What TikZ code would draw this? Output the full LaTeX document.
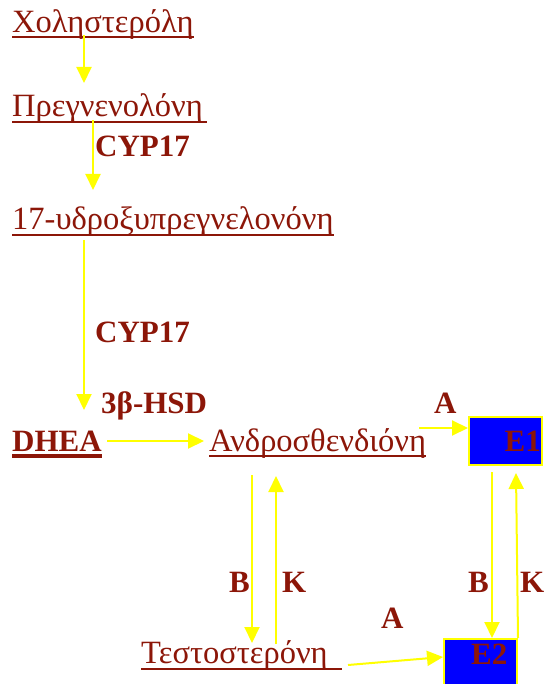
\documentclass[tikz,border=0pt]{standalone}
\usepackage{fontspec}
\setmainfont{Liberation Serif}
\usetikzlibrary{arrows.meta}
\definecolor{txtred}{RGB}{140,22,8}
\definecolor{flowyellow}{RGB}{255,255,0}
\definecolor{boxblue}{RGB}{0,0,255}
\tikzset{
  compound/.style={anchor=base west, inner sep=0pt, text=txtred, font=\fontsize{32.5}{36}\selectfont},
  enzyme/.style={anchor=base west, inner sep=0pt, text=txtred, font=\fontsize{31}{34}\selectfont\bfseries},
  uline/.style={draw=txtred, line width=2pt},
  flow/.style={draw=flowyellow, line width=2pt, -{Triangle[length=16pt, width=15pt]}},
  estro/.style={draw=flowyellow, fill=boxblue, line width=2pt, inner sep=0pt, minimum width=73pt, anchor=north west},
}
\begin{document}
\begin{tikzpicture}[x=1pt, y=-1pt]
\clip (0,0) rectangle (546,684);

% compounds
\node[compound] (chol) at (12,33) {Χοληστερόλη};
\node[compound] (preg) at (12,117) {Πρεγνενολόνη\ };
\node[compound] (ohp) at (12,230) {17-υδροξυπρεγνελονόνη};
\node[enzyme] (dhea) at (12,451) {DHEA};
\node[compound] (andro) at (209,451) {Ανδροσθενδιόνη};
\node[compound] (testo) at (141,663) {Τεστοστερόνη\ };

% underlines
\draw[uline] (12,37.5) -- (chol.base east |- 0,37.5);
\draw[uline] (12,122) -- (207,122);
\draw[uline] (12,235) -- (ohp.base east |- 0,235);
\draw[uline, line width=3.5pt] (12,456) -- (dhea.base east |- 0,456);
\draw[uline] (209,456) -- (andro.base east |- 0,456);
\draw[uline] (141,669) -- (342,669);

% estrogen boxes
\node[estro, minimum height=48pt] (e1) at (468,416) {};
\node[anchor=base east, inner sep=0pt, text=txtred, font=\fontsize{31}{34}\selectfont\bfseries] (e1t) at (541,451) {E1};
\node[estro, minimum height=70pt] (e2) at (443,638) {};
\node[anchor=base west, inner sep=0pt, text=txtred, font=\fontsize{31}{34}\selectfont\bfseries] (e2t) at (471,664) {E2};

% enzyme labels
\node[enzyme] (cypa) at (95,157) {CYP17};
\node[enzyme] (cypb) at (95,342) {CYP17};
\node[enzyme] (hsd) at (101,413) {3β-HSD};
\node[enzyme] (la1) at (434,413) {A};
\node[enzyme] (la2) at (381,628) {A};
\node[enzyme] (lb1) at (229,592) {B};
\node[enzyme] (lk1) at (282,592) {K};
\node[enzyme] (lb2) at (468,592) {B};
\node[enzyme] (lk2) at (520,592) {K};

% connector end points
\coordinate (c1a) at (84,35);   \coordinate (c1b) at (84,83);
\coordinate (c2a) at (93,120);  \coordinate (c2b) at (93,190);
\coordinate (c3a) at (84,240);  \coordinate (c3b) at (84,410);
\coordinate (c4a) at (107,441); \coordinate (c4b) at (204,441);
\coordinate (c5a) at (419,428);
\coordinate (c6a) at (252,475); \coordinate (c6b) at (252,643);
\coordinate (c7a) at (276,644); \coordinate (c7b) at (276,476);
\coordinate (c8a) at (348,665);
\coordinate (c9a) at (492,472);
\coordinate (c10b) at (516,473);

% pathway arrows
\draw[flow] (c1a) -- (c1b);
\draw[flow] (c2a) -- (c2b);
\draw[flow] (c3a) -- (c3b);
\draw[flow] (c4a) -- (c4b);
\draw[flow] (c5a) -- (c5a -| e1.west);
\draw[flow] (c6a) -- (c6b);
\draw[flow] (c7a) -- (c7b);
\draw[flow] (c8a) -- ([yshift=-19pt]e2.west |- e2.north);
\draw[flow] (c9a) -- (c9a |- e2.north);
\draw[flow] (e2.north east) -- (c10b);
\end{tikzpicture}
\end{document}
